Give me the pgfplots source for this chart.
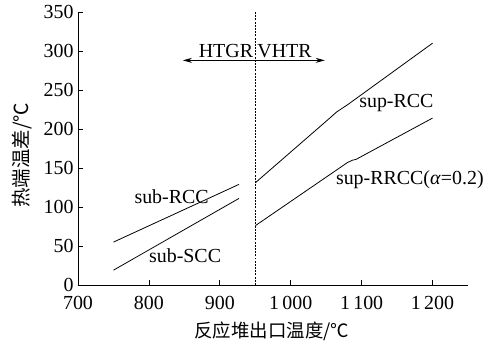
\documentclass[border=0pt]{standalone}
\usepackage{fontspec}
\setmainfont{Liberation Serif}
\newfontfamily\cjk{Noto Sans CJK SC}
\usepackage{pgfplots}
\pgfplotsset{compat=1.18}
\usetikzlibrary{arrows.meta}
\begin{document}
\begin{tikzpicture}
\useasboundingbox (-78bp,-61bp) rectangle (420bp,285bp);
\begin{axis}[
  at={(0,0)}, anchor=south west,
  scale only axis, width=390bp, height=273bp,
  xmin=700, xmax=1250, ymin=0, ymax=350,
  axis lines*=left,
  axis line style={line width=0.8pt},
  tick align=inside,
  major tick length=5bp,
  tick style={line width=0.8pt, black},
  xtick={700,800,900,1000,1100,1200},
  xticklabels={700,800,900,1\,000,1\,100,1\,200},
  ytick={0,50,...,350},
  /pgf/number format/assume math mode=true,
  font=\fontsize{20}{23}\selectfont,
  ticklabel style={font=\fontsize{20}{23}\selectfont},
  xticklabel style={yshift=-8bp},
  yticklabel style={xshift=-1bp},
  xlabel={\cjk 反应堆出口温度/℃},
  ylabel={\cjk 热端温差/℃},
  xlabel style={at={(axis description cs:0.497,-0.168)}, anchor=center, font=\fontsize{18.5}{22}\selectfont},
  ylabel style={at={(axis description cs:-0.144,0.476)}, anchor=center, rotate=0, font=\fontsize{19.5}{22}\selectfont},
  clip=false,
]
\addplot[black, line width=0.8pt] coordinates {(750,55) (927,129)};
\addplot[black, line width=0.8pt] coordinates {(750,19) (927,111)};
\addplot[black, line width=0.8pt] coordinates {(950,131) (1050,210) (1065,222) (1080,231) (1200,310)};
\addplot[black, line width=0.8pt] coordinates {(950,76) (1080,157) (1087,160) (1092,161) (1200,214)};
\addplot[black, line width=0.8pt, dash pattern=on 2pt off 1.2pt] coordinates {(950,0) (950,350)};
\addplot[black, line width=0.8pt, {Stealth[length=9bp,width=5bp]}-{Stealth[length=9bp,width=5bp]}] coordinates {(848,288) (1048,288)};
\node[anchor=south east, inner sep=2pt] at (axis cs:950,289) {HTGR};
\node[anchor=south west, inner sep=2pt] at (axis cs:950,289) {VHTR};
\node at (axis cs:832,113) {sub-RCC};
\node at (axis cs:851,38) {sub-SCC};
\node at (axis cs:1149,233) {sup-RCC};
\node at (axis cs:1168,135) {sup-RRCC(\textit{α}=0.2)};
\end{axis}
\end{tikzpicture}
\end{document}
